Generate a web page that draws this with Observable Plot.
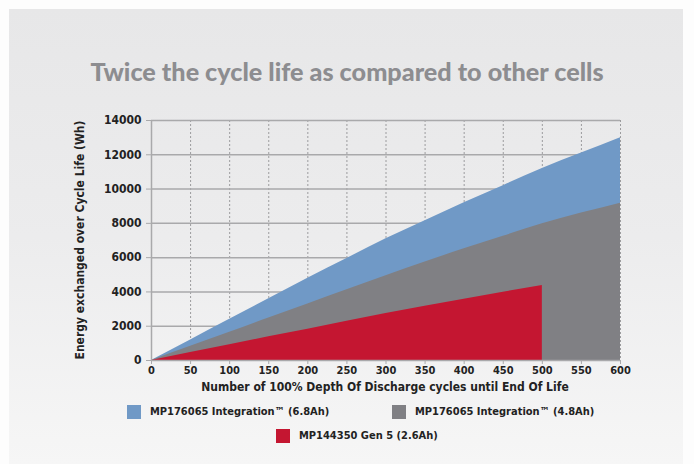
<!DOCTYPE html>
<html><head><meta charset="utf-8">
<script src="https://cdn.jsdelivr.net/npm/d3@7"></script>
<script src="https://cdn.jsdelivr.net/npm/@observablehq/plot@0.6"></script>
<style>
body{margin:0;background:#fdfdfd;width:694px;height:464px;overflow:hidden;position:relative;font-family:"DejaVu Sans Condensed","DejaVu Sans",sans-serif;color:#222;}
#panel{position:absolute;left:9px;top:9px;width:674px;height:455px;background:linear-gradient(#e7e7e8 0%,#ececed 50%,#f6f6f6 100%);}
#title{position:absolute;left:0;width:694px;top:56px;text-align:center;font:900 25.2px Lato,sans-serif;color:#8d8d90;}
#chart{position:absolute;left:0;top:100px;}
#ylab{position:absolute;left:-70px;top:232px;width:300px;text-align:center;font-size:12px;font-weight:bold;transform:rotate(-90deg);color:#222;line-height:16px;}
#xlab{position:absolute;left:185px;top:379px;width:400px;text-align:center;font-size:12px;font-weight:bold;color:#222;line-height:16px;}
.leg{position:absolute;font-size:11px;font-weight:bold;line-height:16px;color:#222;white-space:nowrap;}
.sw{position:absolute;width:14px;height:14px;}
</style></head>
<body>
<div id="panel"></div>
<div id="title">Twice the cycle life as compared to other cells</div>
<div id="chart"></div>
<div id="ylab">Energy exchanged over Cycle Life (Wh)</div>
<div id="xlab">Number of 100% Depth Of Discharge cycles until End Of Life</div>
<div id="legend"></div>
<script>
const cycles = [0,50,100,150,200,250,300,350,400,450,500,550,600];
const blueWh = [0,1200,2400,3600,4800,5950,7100,8150,9200,10200,11200,12100,13000];
const grayWh = [0,830,1650,2480,3300,4130,4950,5740,6520,7250,7970,8600,9180];
const redCycles = [0,50,100,150,200,250,300,350,400,450,500];
const redWh = [0,460,920,1380,1830,2290,2740,3160,3570,3980,4380];
const seriesNames = ["MP176065 Integration™ (6.8Ah)","MP176065 Integration™ (4.8Ah)","MP144350 Gen 5 (2.6Ah)"];
const seriesColors = ["#7099c6","#808084","#c41631"];
const yTicks = [0,2000,4000,6000,8000,10000,12000,14000];
const xTicks = cycles;

const blue = cycles.map((c,i)=>({c, v: blueWh[i]}));
const gray = cycles.map((c,i)=>({c, v: grayWh[i]}));
const red = redCycles.map((c,i)=>({c, v: redWh[i]}));

const chart = Plot.plot({
  width: 694, height: 300,
  marginLeft: 151, marginRight: 74, marginTop: 20, marginBottom: 40,
  style: {background: "transparent", fontFamily: "'DejaVu Sans Condensed', 'DejaVu Sans', sans-serif", color: "#222"},
  x: {domain: [0,600]},
  y: {domain: [0,14000]},
  marks: [
    Plot.ruleX(xTicks.filter(d=>d>0), {stroke: "#9c9c9e", strokeDasharray: "2,2", strokeWidth: 1}),
    Plot.ruleY(yTicks.filter(d=>d>0), {stroke: "#a9a9ab", strokeWidth: 1.5}),
    Plot.areaY(blue, {x: "c", y1: 0, y2: "v", fill: seriesColors[0], curve: "monotone-x"}),
    Plot.areaY(gray, {x: "c", y1: 0, y2: "v", fill: seriesColors[1], curve: "monotone-x"}),
    Plot.areaY(red, {x: "c", y1: 0, y2: "v", fill: seriesColors[2]}),
    Plot.ruleY([0], {stroke: "#a9a9ab", strokeWidth: 1.5}),
    Plot.ruleX([0], {stroke: "#a9a9ab", strokeWidth: 1.5}),
    Plot.axisY({ticks: yTicks, tickSize: 5, tickPadding: 5, stroke: "#a9a9ab", label: null, fontSize: 12, fontWeight: "bold", fill: "#222", tickFormat: d=>String(d)}),
    Plot.axisX({ticks: xTicks, tickSize: 4, tickPadding: 2, stroke: "#a9a9ab", label: null, fontSize: 11, fontFamily: "'Liberation Sans Narrow', 'DejaVu Sans Condensed', sans-serif", fontWeight: "bold", fill: "#222", tickFormat: d=>String(d)})
  ]
});
document.getElementById("chart").appendChild(chart);

const legendPos = [[127,405],[392,405],[276,429]];
const leg = document.getElementById("legend");
seriesNames.forEach((name,i)=>{
  const [x,y] = legendPos[i];
  const sw = document.createElement("div");
  sw.className = "sw"; sw.style.left = x+"px"; sw.style.top = y+"px"; sw.style.background = seriesColors[i];
  leg.appendChild(sw);
  const t = document.createElement("div");
  t.className = "leg"; t.style.left = (x+23)+"px"; t.style.top = (y-1)+"px"; t.textContent = name;
  leg.appendChild(t);
});
</script>
</body></html>
